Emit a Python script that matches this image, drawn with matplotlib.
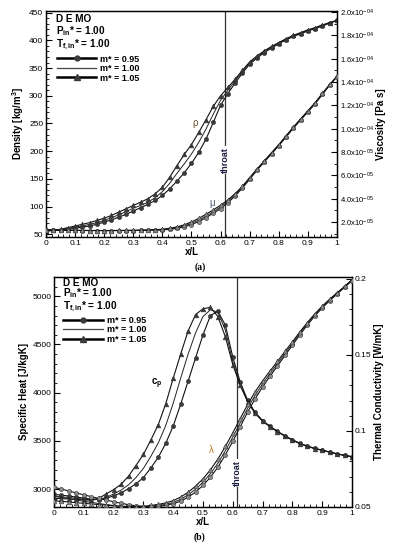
import numpy as np
import matplotlib
matplotlib.use("Agg")
import matplotlib.pyplot as plt
from matplotlib.lines import Line2D
from matplotlib.ticker import MultipleLocator, FuncFormatter

plt.rcParams['font.family'] = ['Liberation Sans', 'DejaVu Sans']
plt.rcParams['mathtext.fontset'] = 'custom'
plt.rcParams['mathtext.rm'] = 'Liberation Sans'
plt.rcParams['mathtext.bf'] = 'Liberation Sans:bold'
plt.rcParams['mathtext.it'] = 'Liberation Sans:italic'

# ---------------- data ----------------
x = [0, .025, .05, .075, .1, .125, .15, .175, .2, .225, .25, .275, .3, .325, .35, .375,
     .4, .425, .45, .475, .5, .525, .55, .575, .6, .625, .65, .675, .7, .725, .75, .775,
     .8, .825, .85, .875, .9, .925, .95, .975, 1.0]
throat_x = 0.615
m_labels = ["m* = 0.95", "m* = 1.00", "m* = 1.05"]
header = "D E MO\n" + r"P$_{\mathbf{in}}$* = 1.00" + "\n" + r"T$_{\mathbf{f,in}}$* = 1.00"

# panel (a): density [kg/m3]
rho_095 = [56, 57, 58, 59, 61, 63, 65, 68, 72, 76, 81, 86, 92, 98, 104, 111, 120, 132, 146, 161,
           178, 198, 222, 252, 283, 304, 323, 341, 357, 368, 378, 386, 394, 401, 407, 412, 417,
           421, 426, 431, 436]
rho_100 = [56, 57, 58, 60, 63, 65, 68, 71, 75, 80, 85, 91, 97, 102, 108, 116, 127, 142, 160, 177,
           195, 216, 240, 267, 292, 310, 327, 344, 359, 370, 380, 388, 395, 402, 408, 413, 418,
           422, 427, 432, 436]
rho_105 = [56, 57, 59, 62, 65, 68, 71, 75, 79, 84, 90, 96, 102, 108, 114, 123, 135, 153, 174, 194,
           212, 234, 257, 281, 300, 315, 330, 346, 361, 372, 381, 389, 396, 403, 409, 414, 419,
           423, 428, 432, 436]
# panel (a): viscosity, in units of 1e-5 Pa s
mu_scale = 1e-5
mu_095 = [1.35, 1.33, 1.31, 1.30, 1.29, 1.28, 1.28, 1.28, 1.27, 1.27, 1.27, 1.28, 1.28, 1.29, 1.30,
          1.31, 1.33, 1.38, 1.46, 1.60, 1.79, 2.05, 2.38, 2.76, 3.16, 3.66, 4.25, 4.92, 5.68, 6.45,
          7.15, 7.85, 8.55, 9.3, 10.05, 10.75, 11.45, 12.15, 12.95, 13.75, 14.45]
mu_100 = [1.35, 1.33, 1.31, 1.30, 1.29, 1.29, 1.28, 1.28, 1.28, 1.28, 1.28, 1.29, 1.29, 1.30, 1.31,
          1.33, 1.36, 1.42, 1.52, 1.68, 1.90, 2.18, 2.52, 2.90, 3.30, 3.78, 4.35, 5.00, 5.75, 6.50,
          7.20, 7.90, 8.60, 9.35, 10.1, 10.8, 11.5, 12.2, 13.0, 13.8, 14.5]
mu_105 = [1.35, 1.33, 1.31, 1.30, 1.29, 1.29, 1.28, 1.28, 1.28, 1.28, 1.29, 1.29, 1.30, 1.31, 1.32,
          1.35, 1.39, 1.47, 1.59, 1.77, 2.02, 2.32, 2.68, 3.05, 3.45, 3.90, 4.45, 5.08, 5.82, 6.55,
          7.25, 7.95, 8.65, 9.4, 10.15, 10.85, 11.55, 12.25, 13.05, 13.8, 14.5]

# panel (b): specific heat [J/kgK]
cp_095 = [2945, 2938, 2928, 2918, 2907, 2897, 2892, 2905, 2930, 2962, 3005, 3055, 3120, 3220, 3330,
          3475, 3655, 3880, 4120, 4360, 4600, 4800, 4845, 4700, 4370, 4110, 3920, 3795, 3710, 3652,
          3598, 3552, 3512, 3474, 3447, 3422, 3405, 3385, 3367, 3351, 3337]
cp_100 = [2925, 2920, 2913, 2905, 2897, 2890, 2893, 2915, 2950, 2990, 3045, 3120, 3215, 3340, 3480,
          3660, 3890, 4150, 4400, 4620, 4790, 4860, 4835, 4650, 4320, 4085, 3910, 3790, 3708, 3650,
          3597, 3551, 3511, 3473, 3446, 3421, 3404, 3384, 3366, 3350, 3336]
cp_105 = [2905, 2902, 2898, 2893, 2888, 2886, 2905, 2950, 2995, 3050, 3135, 3245, 3360, 3510, 3670,
          3885, 4150, 4400, 4640, 4810, 4870, 4885, 4790, 4580, 4290, 4075, 3905, 3785, 3705, 3648,
          3596, 3550, 3510, 3472, 3445, 3420, 3403, 3383, 3365, 3350, 3335]
# panel (b): thermal conductivity [W/mK]
lam_095 = [.063, .0618, .0605, .0592, .058, .0568, .0556, .0545, .0535, .0525, .0515, .0508, .0503,
           .0502, .0504, .0511, .0522, .0538, .0565, .0598, .0642, .0696, .0762, .0843, .0932, .1028,
           .1125, .1212, .1290, .1361, .1428, .1497, .1564, .1632, .1697, .1756, .1809, .1857, .1901,
           .1945, .1989]
lam_100 = [.057, .0562, .0554, .0546, .0538, .053, .0523, .0516, .051, .0505, .0502, .0501, .0502,
           .0505, .051, .0518, .053, .055, .058, .0617, .0663, .072, .0788, .087, .096, .1055, .115,
           .1235, .131, .1378, .1443, .151, .1575, .1642, .1705, .1763, .1815, .1862, .1905, .1948,
           .1992]
lam_105 = [.054, .0537, .0533, .0528, .0524, .052, .0516, .0512, .0508, .0505, .0503, .0503, .0505,
           .051, .0517, .0527, .0542, .0565, .0597, .0637, .0685, .0745, .0815, .0898, .0988, .1082,
           .1175, .1258, .1330, .1395, .1458, .1523, .1586, .1652, .1713, .1770, .1821, .1867, .1909,
           .1951, .1995]

# ---------------- figure ----------------
fig = plt.figure(figsize=(3.98, 5.5), dpi=100)
axA = fig.add_axes([0.1156, 0.569, 0.7311, 0.411])
axB = fig.add_axes([0.1357, 0.0782, 0.7487, 0.4182])

TICK_FS = 6
LAB_FS = 7
HDR_FS = 7.2
dark = '#3a3a3a'
grey = '#8c8c8c'


def plot_family(ax, series, face):
    styles = [dict(marker='o', ms=3.0), dict(marker=None), dict(marker='^', ms=3.4)]
    for s, st in zip(series, styles):
        if st['marker'] is None:
            ax.plot(x, s, color='#222222', lw=0.7, zorder=3)
        else:
            ax.plot(x, s, color='#111111', lw=0.8, marker=st['marker'], ms=st['ms'],
                    mfc=face, mec='#333333', mew=0.4, zorder=3)


def style_axes(ax):
    ax.tick_params(axis='both', which='both', direction='in', labelsize=TICK_FS, top=False,
                   pad=2)
    ax.tick_params(which='major', length=4, width=0.8)
    ax.tick_params(which='minor', length=2, width=0.6)
    for sp in ax.spines.values():
        sp.set_linewidth(0.9)


def sci_fmt(v, pos):
    if v <= 0:
        return ""
    e = int(np.floor(np.log10(v) + 1e-9))
    m = v / 10 ** e
    return r"%.1fx10$^{-%02d}$" % (m, -e)


def xfmt(v, p):
    if abs(v) < 1e-9:
        return "0"
    if abs(v - 1) < 1e-9:
        return "1"
    return "%.1f" % v


def add_header(ax, xpos, ytop, lsp, leg_anchor):
    ax.text(xpos, ytop, header, transform=ax.transAxes, fontsize=HDR_FS,
            fontweight='bold', va='top', ha='left', linespacing=lsp)
    handles = [Line2D([], [], color='black', lw=1.8, marker='o', ms=3.5, mfc=dark, mec=dark),
               Line2D([], [], color='#444444', lw=0.9),
               Line2D([], [], color='black', lw=1.8, marker='^', ms=3.8, mfc=dark, mec=dark)]
    leg = ax.legend(handles, m_labels, loc='upper left', bbox_to_anchor=leg_anchor,
                    frameon=False, fontsize=6.5, handlelength=4.4, handletextpad=0.4,
                    labelspacing=0.05, borderpad=0.2)
    for t in leg.get_texts():
        t.set_fontweight('bold')


# ----- panel (a)
axA2 = axA.twinx()
plot_family(axA, [rho_095, rho_100, rho_105], dark)
plot_family(axA2, [np.array(mu_095) * mu_scale, np.array(mu_100) * mu_scale,
                   np.array(mu_105) * mu_scale], grey)
axA.axvline(throat_x, color='#333333', lw=0.9, zorder=1)
axA.set_xlim(0, 1)
axA.set_ylim(45, 453)
axA2.set_ylim(0.72e-5, 2.01e-4)
axA.xaxis.set_major_locator(MultipleLocator(0.1))
axA.xaxis.set_minor_locator(MultipleLocator(0.02))
axA.yaxis.set_major_locator(MultipleLocator(50))
axA.yaxis.set_minor_locator(MultipleLocator(10))
axA2.yaxis.set_major_locator(MultipleLocator(2e-5))
axA2.yaxis.set_minor_locator(MultipleLocator(1e-5))
axA2.yaxis.set_major_formatter(FuncFormatter(sci_fmt))
axA.xaxis.set_major_formatter(FuncFormatter(xfmt))
style_axes(axA)
style_axes(axA2)
axA2.tick_params(labelsize=5.5)
axA.set_xlabel("x/L", fontsize=LAB_FS, fontweight='bold', labelpad=0)
axA.set_ylabel(r"Density [kg/m$^\mathbf{3}$]", fontsize=LAB_FS, fontweight='bold', labelpad=2)
axA2.set_ylabel("Viscosity [Pa s]", fontsize=LAB_FS, fontweight='bold', labelpad=2)
axA.text(0.512, 250, "ρ", fontsize=7, color='#6b4a2a', ha='center', va='center')
axA.text(0.57, 106, "μ", fontsize=7, color='#4a5a7a', ha='center', va='center')
axA.text(throat_x, 184, "throat", rotation=90, fontsize=6.5, fontweight='bold', color='#1c1c40',
         ha='center', va='center', zorder=2,
         bbox=dict(facecolor='white', edgecolor='none', pad=0.6))
add_header(axA, 0.035, 0.985, 0.95, (0.015, 0.835))

# ----- panel (b)
axB2 = axB.twinx()
plot_family(axB, [cp_095, cp_100, cp_105], dark)
plot_family(axB2, [lam_095, lam_100, lam_105], grey)
axB.axvline(throat_x, color='#333333', lw=0.9, zorder=1)
axB.set_xlim(0, 1)
axB.set_ylim(2815, 5200)
axB2.set_ylim(0.05, 0.2013)
axB.xaxis.set_major_locator(MultipleLocator(0.1))
axB.xaxis.set_minor_locator(MultipleLocator(0.02))
axB.yaxis.set_major_locator(MultipleLocator(500))
axB.yaxis.set_minor_locator(MultipleLocator(100))
axB2.yaxis.set_major_locator(MultipleLocator(0.05))
axB2.yaxis.set_minor_locator(MultipleLocator(0.01))
axB2.yaxis.set_major_formatter(FuncFormatter(lambda v, p: ("%.2f" % v).rstrip('0')))
axB.xaxis.set_major_formatter(FuncFormatter(xfmt))
style_axes(axB)
style_axes(axB2)
axB.set_xlabel("x/L", fontsize=LAB_FS, fontweight='bold', labelpad=0)
axB.set_ylabel("Specific Heat [J/kgK]", fontsize=LAB_FS, fontweight='bold', labelpad=2)
axB2.set_ylabel("Thermal Conductivity [W/mK]", fontsize=LAB_FS, fontweight='bold', labelpad=2)
axB.text(0.345, 4094, r"c$_\mathbf{p}$", fontsize=7, fontweight='bold', ha='center', va='center')
axB.text(0.529, 3404, "λ", fontsize=7, color='#c07a20', ha='center', va='center')
axB.text(throat_x, 3165, "throat", rotation=90, fontsize=6.5, fontweight='bold', color='#1c1c40',
         ha='center', va='center', zorder=2,
         bbox=dict(facecolor='white', edgecolor='none', pad=0.6))
add_header(axB, 0.03, 0.997, 0.88, (0.01, 0.858))

fig.text(0.5025, 0.5145, "(a)", fontsize=7, ha='center', va='center', family='Liberation Serif',
         fontweight='bold')
fig.text(0.5025, 0.0236, "(b)", fontsize=7, ha='center', va='center', family='Liberation Serif',
         fontweight='bold')

fig.savefig("out.png", dpi=100)
